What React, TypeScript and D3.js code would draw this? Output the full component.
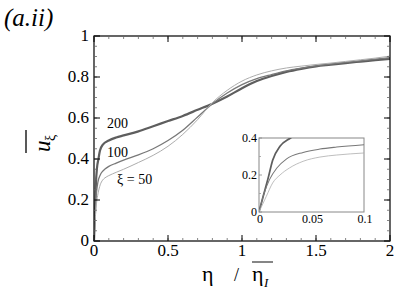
import React from "react";
import * as d3 from "d3";

const etaX200 = [0,0.004,0.009,0.013,0.02,0.03,0.04,0.06,0.1,0.15,0.2,0.3,0.4,0.5,0.6,0.7,0.8,0.9,1.0,1.1,1.2,1.3,1.4,1.5,1.6,1.7,1.8,1.9,2.0];
const u200 = [0,0.085,0.19,0.28,0.355,0.40,0.44,0.47,0.49,0.505,0.515,0.535,0.56,0.585,0.61,0.64,0.67,0.705,0.745,0.78,0.805,0.825,0.84,0.852,0.86,0.868,0.875,0.882,0.888];

const etaX100 = [0,0.005,0.01,0.017,0.026,0.042,0.058,0.074,0.1,0.15,0.2,0.3,0.4,0.5,0.6,0.7,0.8,0.9,1.0,1.1,1.2,1.3,1.4,1.5,1.6,1.7,1.8,1.9,2.0];
const u100 = [0,0.103,0.175,0.238,0.286,0.322,0.34,0.351,0.364,0.38,0.395,0.42,0.45,0.49,0.54,0.605,0.67,0.722,0.763,0.792,0.812,0.83,0.843,0.854,0.863,0.871,0.879,0.887,0.895];

const etaX50 = [0,0.007,0.013,0.02,0.029,0.042,0.058,0.074,0.1,0.15,0.2,0.3,0.4,0.5,0.6,0.7,0.8,0.9,1.0,1.1,1.2,1.3,1.4,1.5,1.6,1.7,1.8,1.9,2.0];
const u50 = [0,0.085,0.157,0.2,0.238,0.274,0.297,0.308,0.319,0.335,0.35,0.383,0.418,0.462,0.52,0.592,0.675,0.735,0.78,0.81,0.83,0.844,0.853,0.861,0.868,0.876,0.884,0.892,0.902];

const xTickLabels = ["0", "0.5", "1", "1.5", "2"];
const yTickLabels = ["0", "0.2", "0.4", "0.6", "0.8", "1"];
const insetXTickLabels = ["0", "0.05", "0.1"];
const insetYTickLabels = ["0", "0.2", "0.4"];
const curveLabels = ["200", "100", "ξ = 50"];

const FONT = "Liberation Serif, Tinos, Times New Roman, DejaVu Serif, serif";

const series = [
  { xs: etaX200, ys: u200, color: "#5e5e5e", w: 2.2 },
  { xs: etaX100, ys: u100, color: "#787878", w: 1.3 },
  { xs: etaX50, ys: u50, color: "#adadad", w: 1.0 },
];

export default function App() {
  const x = d3.scaleLinear().domain([0, 2]).range([94, 390]);
  const y = d3.scaleLinear().domain([0, 1]).range([241, 36]);
  const ix = d3.scaleLinear().domain([0, 0.1]).range([259, 364]);
  const iy = d3.scaleLinear().domain([0, 0.4]).range([212, 138]);

  const mkLine = (sx: any, sy: any) =>
    d3.line<[number, number]>().x((d) => sx(d[0])).y((d) => sy(d[1])).curve(d3.curveMonotoneX);
  const mainLine = mkLine(x, y);
  const insetLine = mkLine(ix, iy);

  const xMinor = d3.range(0, 2.0001, 0.1);
  const yMinor = d3.range(0, 1.0001, 0.05);
  const xMajor = xTickLabels.map(Number);
  const yMajor = yTickLabels.map(Number);

  const [x0, x1] = x.range();
  const [y0, y1] = y.range();
  const tf = { fontFamily: FONT };

  return (
    <svg width={407} height={291} style={{ position: "absolute", left: 0, top: 0, background: "#fff", fontFamily: FONT }}>
      <defs>
        <clipPath id="mainClip">
          <rect x={x0} y={y1} width={x1 - x0} height={y0 - y1} />
        </clipPath>
        <clipPath id="insetClip">
          <rect x={ix(0)} y={iy(0.4)} width={ix(0.1) - ix(0)} height={iy(0) - iy(0.4)} />
        </clipPath>
      </defs>

      {/* title */}
      <text x={4} y={26} fontSize={25} fontStyle="italic" style={tf}>(a.ii)</text>

      {/* curves */}
      <g clipPath="url(#mainClip)">
        {series.map((s, i) => (
          <path key={i} d={mainLine(s.xs.map((v, k) => [v, s.ys[k]] as [number, number])) || ""}
            fill="none" stroke={s.color} strokeWidth={s.w} />
        ))}
      </g>

      {/* frame */}
      <rect x={x0} y={y1} width={x1 - x0} height={y0 - y1} fill="none" stroke="#000" strokeWidth={1.2} />

      {/* x ticks */}
      {xMinor.map((v, i) => (
        <g key={"xm" + i}>
          <line x1={x(v)} x2={x(v)} y1={y0} y2={y0 - 3} stroke="#666" strokeWidth={0.8} />
          <line x1={x(v)} x2={x(v)} y1={y1} y2={y1 + 3} stroke="#666" strokeWidth={0.8} />
        </g>
      ))}
      {xMajor.map((v, i) => (
        <g key={"xM" + i}>
          <line x1={x(v)} x2={x(v)} y1={y0} y2={y0 - 6} stroke="#000" strokeWidth={1} />
          <line x1={x(v)} x2={x(v)} y1={y1} y2={y1 + 6} stroke="#000" strokeWidth={1} />
          <text x={x(v)} y={y0 + 15} fontSize={17} textAnchor="middle" style={tf}>{xTickLabels[i]}</text>
        </g>
      ))}
      {/* y ticks */}
      {yMinor.map((v, i) => (
        <g key={"ym" + i}>
          <line x1={x0} x2={x0 + 3} y1={y(v)} y2={y(v)} stroke="#666" strokeWidth={0.8} />
          <line x1={x1} x2={x1 - 3} y1={y(v)} y2={y(v)} stroke="#666" strokeWidth={0.8} />
        </g>
      ))}
      {yMajor.map((v, i) => (
        <g key={"yM" + i}>
          <line x1={x0} x2={x0 + 6} y1={y(v)} y2={y(v)} stroke="#000" strokeWidth={1} />
          <line x1={x1} x2={x1 - 6} y1={y(v)} y2={y(v)} stroke="#000" strokeWidth={1} />
          <text x={x0 - 5} y={y(v) + 5} fontSize={17} textAnchor="end" style={tf}>{yTickLabels[i]}</text>
        </g>
      ))}

      {/* curve labels */}
      <text x={107} y={128} fontSize={14} style={tf}>{curveLabels[0]}</text>
      <text x={107} y={157} fontSize={14} style={tf}>{curveLabels[1]}</text>
      <text x={117} y={184} fontSize={14} style={tf}>{curveLabels[2]}</text>

      {/* inset */}
      <rect x={ix(0)} y={iy(0.4)} width={ix(0.1) - ix(0)} height={iy(0) - iy(0.4)} fill="#fff" stroke="#888" strokeWidth={1} />
      <g clipPath="url(#insetClip)">
        {series.map((s, i) => (
          <path key={"i" + i} d={insetLine(s.xs.map((v, k) => [v, s.ys[k]] as [number, number])) || ""}
            fill="none" stroke={s.color} strokeWidth={s.w * 0.8} />
        ))}
      </g>
      {[0.1, 0.3].map((v, i) => (
        <line key={"iym" + i} x1={ix(0)} x2={ix(0) + 2} y1={iy(v)} y2={iy(v)} stroke="#999" strokeWidth={0.8} />
      ))}
      {insetYTickLabels.map((t, i) => (
        <g key={"iyl" + i}>
          <line x1={ix(0)} x2={ix(0) + 3} y1={iy(Number(t))} y2={iy(Number(t))} stroke="#888" strokeWidth={0.8} />
          <text x={ix(0) - 2} y={iy(Number(t)) + 4} fontSize={12} textAnchor="end" style={tf}>{t}</text>
        </g>
      ))}
      {insetXTickLabels.map((t, i) => (
        <text key={"ixl" + i} x={ix(Number(t)) + 1} y={iy(0) + 11} fontSize={12} textAnchor="middle" style={tf}>{t}</text>
      ))}

      {/* x axis label */}
      <text x={202} y={281} fontSize={22} style={tf}>η</text>
      <text x={234} y={281} fontSize={18} style={tf}>/</text>
      <text x={252} y={281} fontSize={22} style={tf}>η</text>
      <text x={264} y={287} fontSize={13} fontStyle="italic" style={tf}>I</text>
      <line x1={252} x2={273} y1={262} y2={262} stroke="#444" strokeWidth={1.3} />

      {/* y axis label */}
      <g transform="translate(50,152) rotate(-90)">
        <text x={0} y={0} fontSize={23} fontStyle="italic" style={tf}>u</text>
        <text x={11} y={5} fontSize={14} style={tf}>ξ</text>
        <line x1={-1} x2={22} y1={-24} y2={-24} stroke="#222" strokeWidth={1.5} />
      </g>
    </svg>
  );
}
